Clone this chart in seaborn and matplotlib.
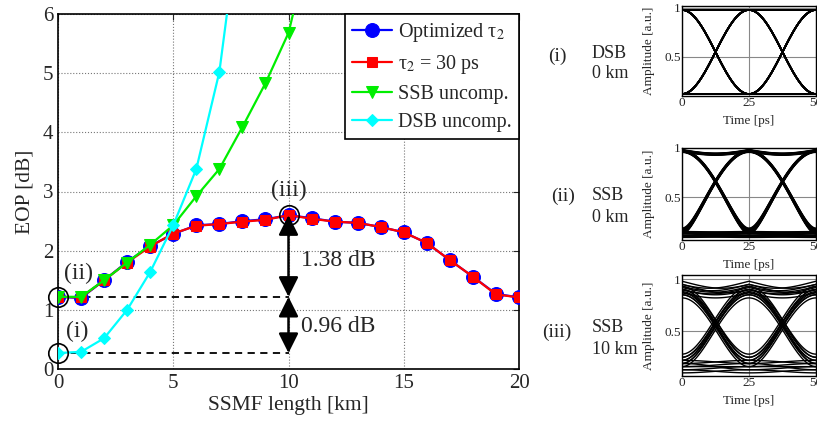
import numpy as np
import pandas as pd
import matplotlib
matplotlib.use("Agg")
import matplotlib.pyplot as plt
import seaborn as sns

# ---------------- data ----------------
km = list(range(0, 21))
eop_opt = [1.22, 1.20, 1.50, 1.81, 2.08, 2.28, 2.43, 2.45, 2.50, 2.53, 2.60,
           2.55, 2.49, 2.47, 2.40, 2.31, 2.13, 1.84, 1.56, 1.27, 1.21]
eop_30ps = [1.22, 1.21, 1.50, 1.80, 2.07, 2.29, 2.42, 2.45, 2.49, 2.52, 2.60,
            2.54, 2.49, 2.47, 2.40, 2.31, 2.13, 1.84, 1.56, 1.26, 1.21]
km_ssb = list(range(0, 12))
eop_ssb = [1.22, 1.22, 1.50, 1.80, 2.10, 2.43, 2.92, 3.38, 4.09, 4.83, 5.68, 7.3]
km_dsb = list(range(0, 9))
eop_dsb = [0.27, 0.29, 0.52, 1.00, 1.64, 2.43, 3.38, 5.02, 8.0]

labels = ["Optimized τ$_2$", "τ$_2$ = 30 ps", "SSB uncomp.", "DSB uncomp."]
xticks = [0, 5, 10, 15, 20]
yticks = [0, 1, 2, 3, 4, 5, 6]

# eye-diagram inset settings (bit pattern: de Bruijn sequence covering all 5-bit words)
bits = [0,0,0,0,0,1,0,0,0,1,1,0,0,1,0,1,0,0,1,1,1,0,1,0,1,1,0,1,1,1,1,1]
eye_names = ["(i)", "(ii)", "(iii)"]
eye_mod = ["DSB", "SSB", "SSB"]
eye_len = ["0 km", "0 km", "10 km"]
eye_hi = [0.98, 0.98, 0.98]
eye_lo = [0.12, 0.10, 0.10]
eye_isi1 = [(0.0, 0.0), (0.006, 0.004), (0.05, 0.03)]
eye_isi0 = [(0.0, 0.0), (0.035, 0.008), (0.06, 0.03)]
eye_dip = [0.0, 0.035, 0.05]
eye_q = [1.0, 1.7, 1.2]
eye_lw = [1.3, 1.6, 1.0]
eye_ylim = [(0.10, 1.02), (0.07, 0.99), (0.07, 1.04)]

# ---------------- style ----------------
sns.set_style("white")
plt.rcParams["font.family"] = ["Liberation Serif", "DejaVu Serif"]
plt.rcParams["mathtext.fontset"] = "stix"

fig = plt.figure(figsize=(8.17, 4.28), dpi=100)
W, H = 817, 428
ax = fig.add_axes([58 / W, 59 / H, 461 / W, 355 / H])

df_opt = pd.DataFrame({"km": km, "eop": eop_opt})
df_30 = pd.DataFrame({"km": km, "eop": eop_30ps})
df_ssb = pd.DataFrame({"km": km_ssb, "eop": eop_ssb})
df_dsb = pd.DataFrame({"km": km_dsb, "eop": eop_dsb})

sns.lineplot(data=df_opt, x="km", y="eop", ax=ax, color="#0000ff", marker="o",
             markersize=10, markeredgecolor="#0000ff", linewidth=1.6, label=labels[0], zorder=3)
sns.lineplot(data=df_30, x="km", y="eop", ax=ax, color="#ff0000", marker="s",
             markersize=7.5, markeredgecolor="#ff0000", linewidth=1.6, label=labels[1], zorder=4)
sns.lineplot(data=df_ssb, x="km", y="eop", ax=ax, color="#00ee00", marker="v",
             markersize=8, markeredgecolor="#00ee00", linewidth=1.6, label=labels[2], zorder=5)
sns.lineplot(data=df_dsb, x="km", y="eop", ax=ax, color="#00ffff", marker="D",
             markersize=6, markeredgecolor="#00ffff", linewidth=1.6, label=labels[3], zorder=6)

ax.set_xlim(0, 20)
ax.set_ylim(0, 6)
ax.set_xticks(xticks)
ax.set_yticks(yticks)
ax.tick_params(labelsize=15, direction="in", top=True, right=True, length=4, width=0.8)
ax.grid(True, color="#777777", linestyle=":", linewidth=0.8)
for s in ax.spines.values():
    s.set_color("black")
    s.set_linewidth(1.2)
ax.set_xlabel("SSMF length [km]", fontsize=15.5, labelpad=2)
ax.set_ylabel("EOP [dB]", fontsize=15.5, labelpad=6)

leg = ax.legend(loc="upper right", fontsize=14.5, frameon=True, fancybox=False,
                edgecolor="black", framealpha=1, borderaxespad=0, handlelength=2.0,
                handletextpad=0.3, labelspacing=0.45, borderpad=0.35)
leg.get_frame().set_linewidth(1.2)

# annotations
lvl_dsb0 = eop_dsb[0]
lvl_ssb0 = eop_ssb[0]
lvl_peak = eop_opt[10]
ax.plot([0, 10], [lvl_ssb0, lvl_ssb0], color="black", linestyle=(0, (4, 3)), lw=1.3, zorder=2)
ax.plot([0, 10], [lvl_dsb0, lvl_dsb0], color="black", linestyle=(0, (4, 3)), lw=1.3, zorder=2)
ax.plot([0, 0, 10], [lvl_dsb0, lvl_ssb0, lvl_peak], linestyle="none", marker="o",
        markersize=14, markerfacecolor="none", markeredgecolor="black", markeredgewidth=1.2,
        zorder=8, clip_on=False)
arrow_kw = dict(arrowstyle="<|-|>,head_length=0.6,head_width=0.3", color="black", lw=1.8,
                shrinkA=0, shrinkB=0, mutation_scale=20)
ax.annotate("", xy=(10, lvl_peak), xytext=(10, lvl_ssb0), arrowprops=arrow_kw, zorder=9)
ax.annotate("", xy=(10, lvl_ssb0), xytext=(10, lvl_dsb0), arrowprops=arrow_kw, zorder=9)
ax.text(10.55, 1.84, "1.38 dB", fontsize=17, va="center", ha="left")
ax.text(10.55, 0.71, "0.96 dB", fontsize=17, va="center", ha="left")
ax.text(0.85, 0.63, "(i)", fontsize=17, va="center", ha="center")
ax.text(0.88, 1.62, "(ii)", fontsize=17, va="center", ha="center")
ax.text(10.0, 3.02, "(iii)", fontsize=17, va="center", ha="center")


# ---------------- eye diagrams ----------------
def bit_levels(hi, lo, isi1, isi0):
    n = len(bits)
    lev = []
    for k in range(n):
        p1, n1 = bits[k - 1], bits[(k + 1) % n]
        p2, n2 = bits[k - 2], bits[(k + 2) % n]
        if bits[k]:
            v = hi - isi1[0] * (2 - p1 - n1) - isi1[1] * (2 - p2 - n2)
        else:
            v = lo + isi0[0] * (p1 + n1) + isi0[1] * (p2 + n2)
        lev.append(v)
    return lev


def transition(a, b, ba, bb, q, dip, u):
    g = (1 - np.cos(np.pi * u)) / 2
    s = (a ** q + (b ** q - a ** q) * g) ** (1 / q)
    if ba and bb:
        s = s - dip * np.sin(np.pi * u)
    return s


eye_tops = [6, 148, 275]
eye_bots = [96, 240, 376]
u = np.linspace(0, 1, 40)
for i in range(3):
    top, bot = eye_tops[i], eye_bots[i]
    eax = fig.add_axes([682 / W, (H - bot) / H, 134 / W, (bot - top) / H])
    lev = bit_levels(eye_hi[i], eye_lo[i], eye_isi1[i], eye_isi0[i])
    n = len(bits)
    for k in range(n):
        k1, k2 = (k + 1) % n, (k + 2) % n
        s1 = transition(lev[k], lev[k1], bits[k], bits[k1], eye_q[i], eye_dip[i], u)
        s2 = transition(lev[k1], lev[k2], bits[k1], bits[k2], eye_q[i], eye_dip[i], u)
        t = np.concatenate([u * 25, 25 + u * 25])
        eax.plot(t, np.concatenate([s1, s2]), color="black", lw=eye_lw[i])
    eax.set_xlim(0, 50)
    eax.set_ylim(*eye_ylim[i])
    eax.set_xticks([0, 25, 50])
    eax.set_yticks([0.5, 1])
    eax.set_yticklabels(["0.5", "1"])
    eax.tick_params(labelsize=9.5, direction="in", length=3, pad=1)
    eax.grid(True, color="#888888", lw=0.8)
    for s in eax.spines.values():
        s.set_color("black")
        s.set_linewidth(1.0)
    eax.set_ylabel("Amplitude [a.u.]", fontsize=9.5)
    eax.yaxis.set_label_coords(-27 / 134, 0.5)
    eax.set_xlabel("Time [ps]", fontsize=9.5)
    eax.xaxis.set_label_coords(0.5, -19 / (bot - top))

fig.text(557 / W, 1 - 56 / H, eye_names[0], fontsize=14, ha="center", va="center")
fig.text(592 / W, 1 - 53 / H, eye_mod[0], fontsize=13, ha="left", va="center")
fig.text(592 / W, 1 - 74 / H, eye_len[0], fontsize=13, ha="left", va="center")
fig.text(563 / W, 1 - 196 / H, eye_names[1], fontsize=14, ha="center", va="center")
fig.text(592 / W, 1 - 195 / H, eye_mod[1], fontsize=13, ha="left", va="center")
fig.text(592 / W, 1 - 218 / H, eye_len[1], fontsize=13, ha="left", va="center")
fig.text(557 / W, 1 - 332 / H, eye_names[2], fontsize=14, ha="center", va="center")
fig.text(592 / W, 1 - 328 / H, eye_mod[2], fontsize=13, ha="left", va="center")
fig.text(592 / W, 1 - 350 / H, eye_len[2], fontsize=13, ha="left", va="center")

fig.savefig("out.png", dpi=100)
